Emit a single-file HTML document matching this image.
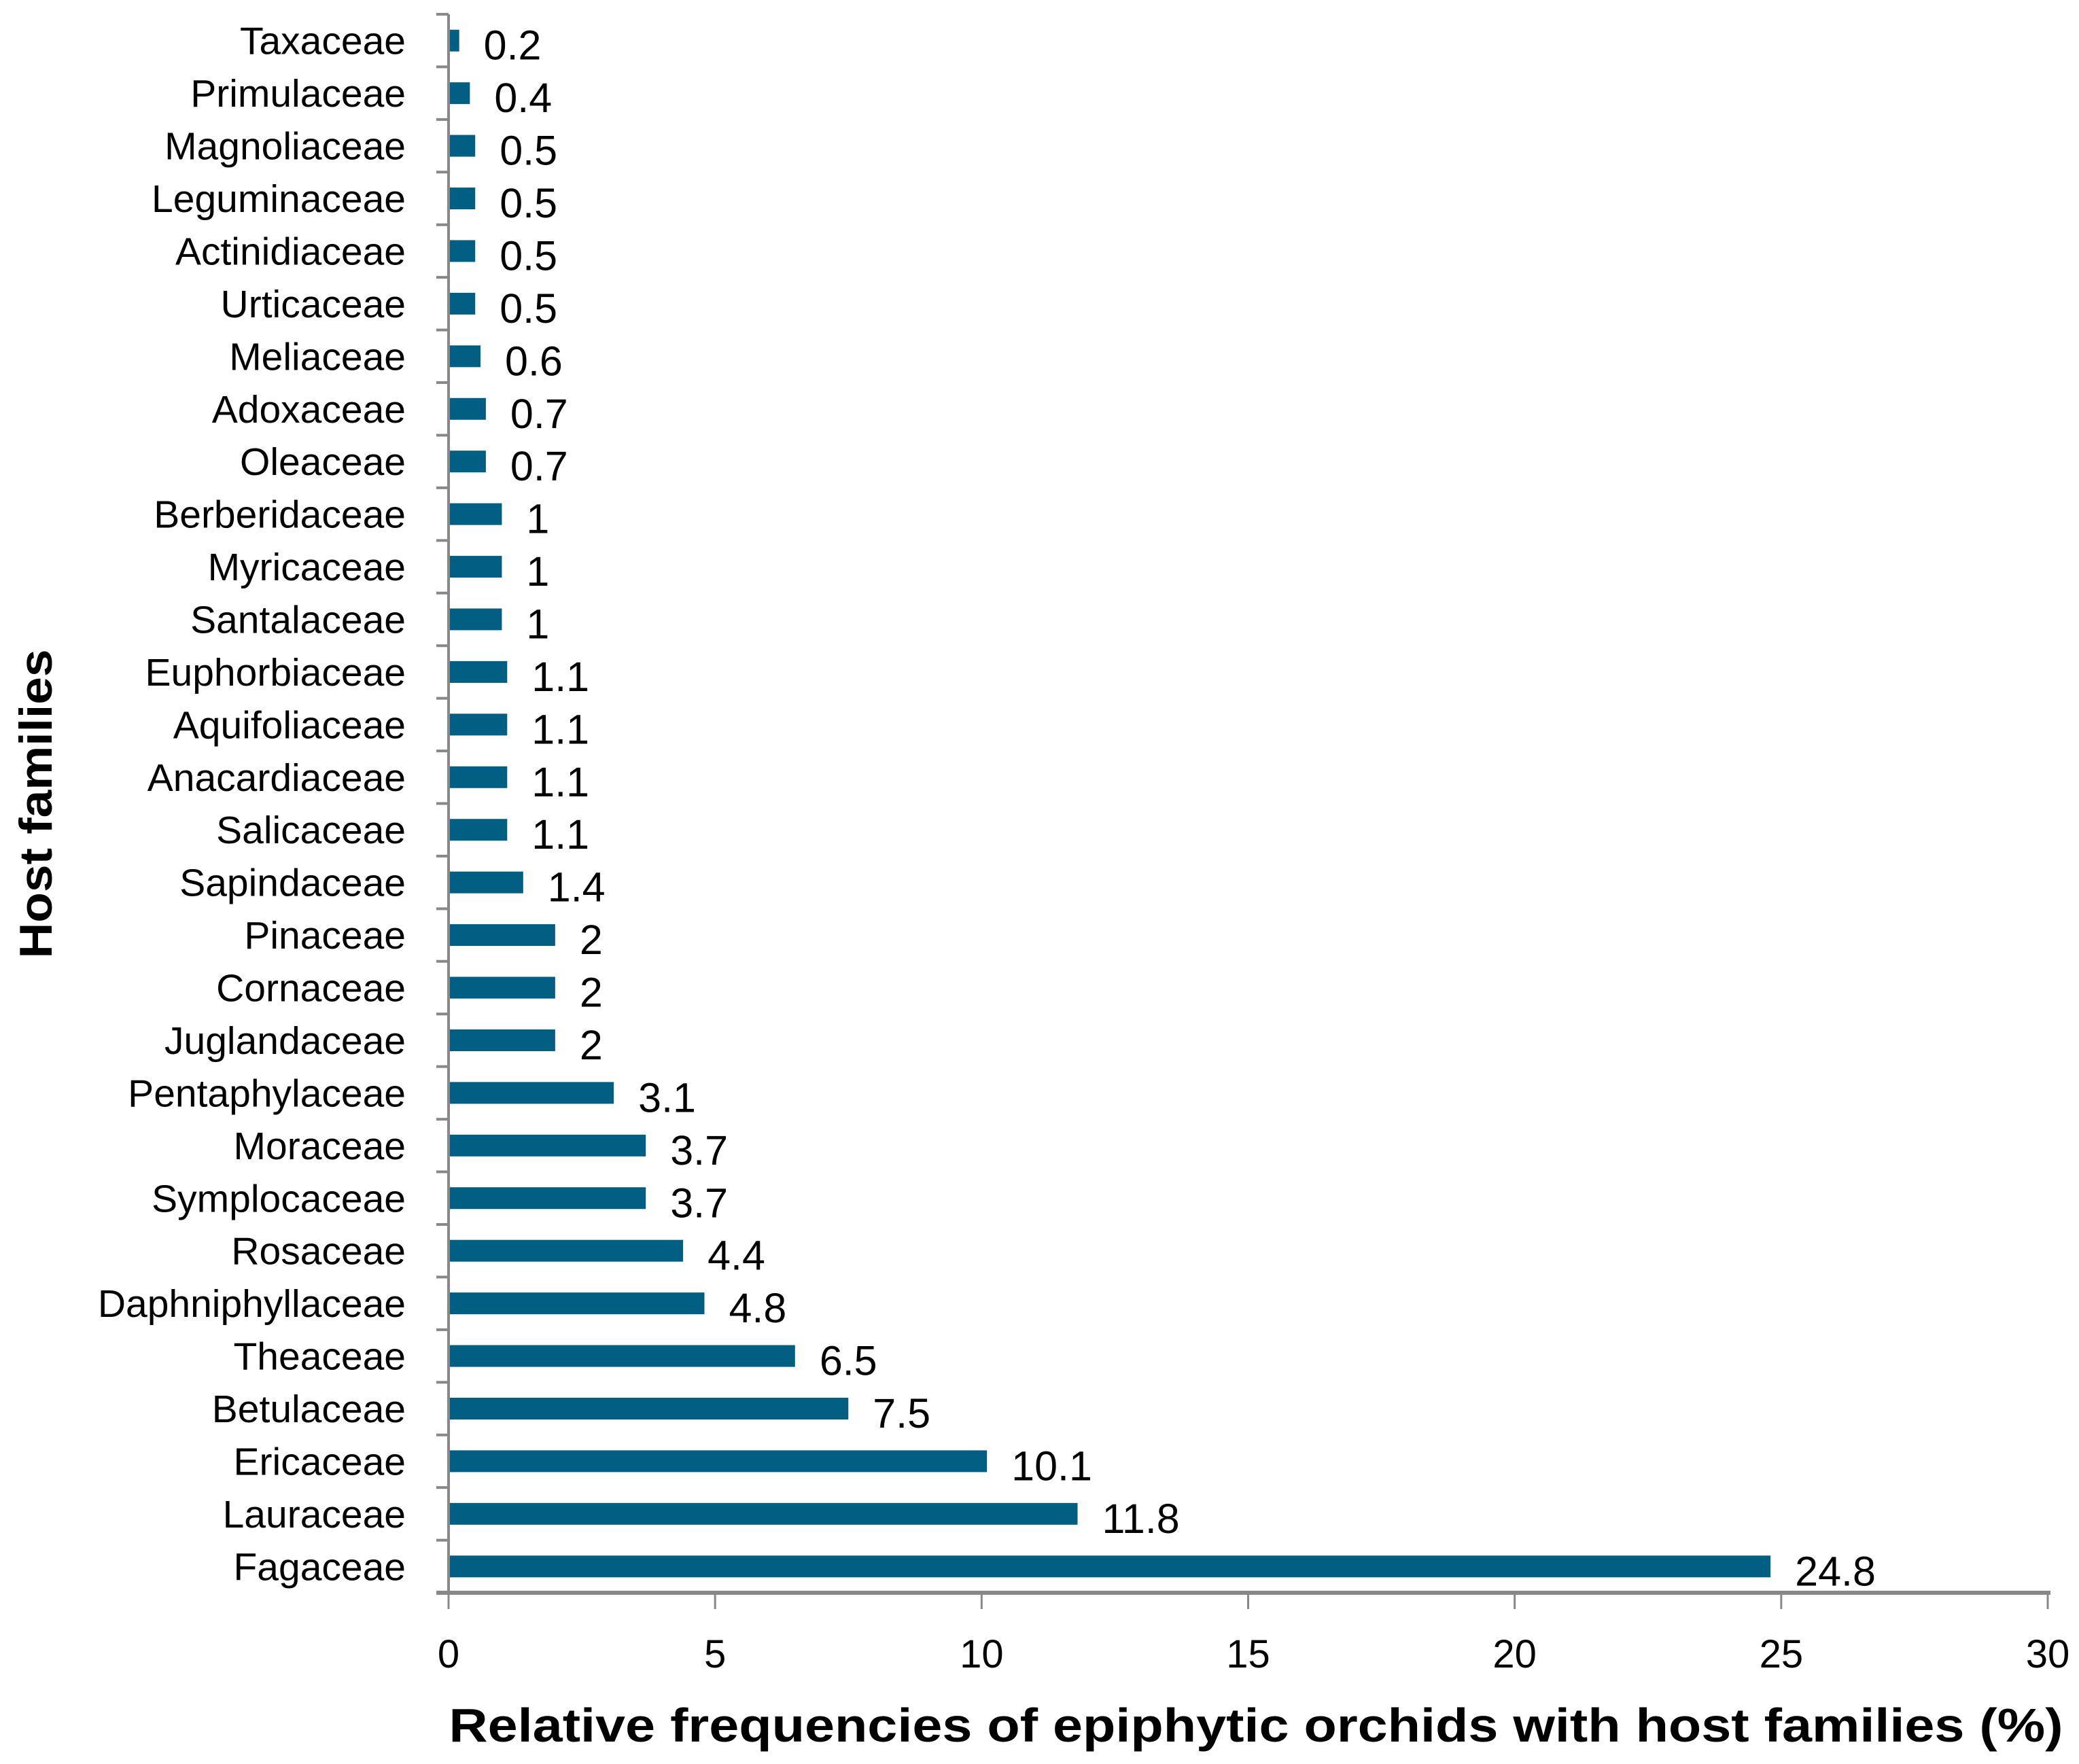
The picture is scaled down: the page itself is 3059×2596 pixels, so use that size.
<!DOCTYPE html>
<html><head><meta charset="utf-8"><style>
html,body{margin:0;padding:0;background:#fff;}
svg{display:block;font-family:"Liberation Sans",sans-serif;}
</style></head><body>
<svg id="chart" width="3059" height="2596" viewBox="0 0 3059 2596" xmlns="http://www.w3.org/2000/svg">
<rect width="3059" height="2596" fill="#fff"/>
<g id="plot"></g>
<text x="0" y="0" transform="translate(76,1183) rotate(-90)" text-anchor="middle" font-size="68" font-weight="bold" textLength="455" lengthAdjust="spacingAndGlyphs">Host families</text>
<text x="1848" y="2563" text-anchor="middle" font-size="70" font-weight="bold" textLength="2375" lengthAdjust="spacingAndGlyphs">Relative frequencies of epiphytic orchids with host families (%)</text>
</svg>
<script>
const categories = ["Taxaceae","Primulaceae","Magnoliaceae","Leguminaceae","Actinidiaceae","Urticaceae","Meliaceae","Adoxaceae","Oleaceae","Berberidaceae","Myricaceae","Santalaceae","Euphorbiaceae","Aquifoliaceae","Anacardiaceae","Salicaceae","Sapindaceae","Pinaceae","Cornaceae","Juglandaceae","Pentaphylaceae","Moraceae","Symplocaceae","Rosaceae","Daphniphyllaceae","Theaceae","Betulaceae","Ericaceae","Lauraceae","Fagaceae"];
const values = [0.2,0.4,0.5,0.5,0.5,0.5,0.6,0.7,0.7,1,1,1,1.1,1.1,1.1,1.1,1.4,2,2,2,3.1,3.7,3.7,4.4,4.8,6.5,7.5,10.1,11.8,24.8];
const valueLabels = ["0.2","0.4","0.5","0.5","0.5","0.5","0.6","0.7","0.7","1","1","1","1.1","1.1","1.1","1.1","1.4","2","2","2","3.1","3.7","3.7","4.4","4.8","6.5","7.5","10.1","11.8","24.8"];
const xTicks = [0,5,10,15,20,25,30];

const NS="http://www.w3.org/2000/svg";
const g=document.getElementById('plot');
const X0=660, X1=3013, XMAX=30, YTOP=21, YBOT=2344;
const band=(YBOT-YTOP)/categories.length;
function xScale(v){return X0+(X1-X0)*v/XMAX;}
function yCenter(i){return YTOP+band*(i+0.5);}
function mk(tag,attrs){const e=document.createElementNS(NS,tag);for(const k in attrs)e.setAttribute(k,attrs[k]);g.appendChild(e);return e;}

let ax=mk('line',{x1:X0,y1:YTOP,x2:X0,y2:YBOT,stroke:'#888',"stroke-width":4});


for(let i=0;i<=categories.length;i++){
  const y=YTOP+band*i;
  const t=mk('line',{x1:X0-18,y1:y,x2:X0,y2:y,stroke:'#888',"stroke-width":4});
  
  
}
let xl=mk('line',{x1:X0-18,y1:YBOT,x2:X1+4,y2:YBOT,stroke:'#888',"stroke-width":6});


xTicks.forEach(v=>{
  const x=xScale(v);
  const t=mk('line',{x1:x,y1:YBOT,x2:x,y2:YBOT+24,stroke:'#888',"stroke-width":3});
  
  
  const l=mk('text',{x:x,y:YBOT+110,"text-anchor":"middle","font-size":58,fill:'#000'});
  l.textContent=String(v);
  
  
});
categories.forEach((c,i)=>{
  const yc=yCenter(i);
  const lab=mk('text',{x:597,y:yc+20,"text-anchor":"end","font-size":57,fill:'#000'});
  lab.textContent=c;
  
  
  const w=xScale(values[i])-X0;
  const b=mk('rect',{x:X0+2,y:yc-16,width:Math.max(w-2,1),height:32,fill:'#005f82'});
  
  
  const v=mk('text',{x:xScale(values[i])+36,y:yc+28,"font-size":61,fill:'#000'});
  v.textContent=valueLabels[i];
  
  
});
</script>
</body></html>
